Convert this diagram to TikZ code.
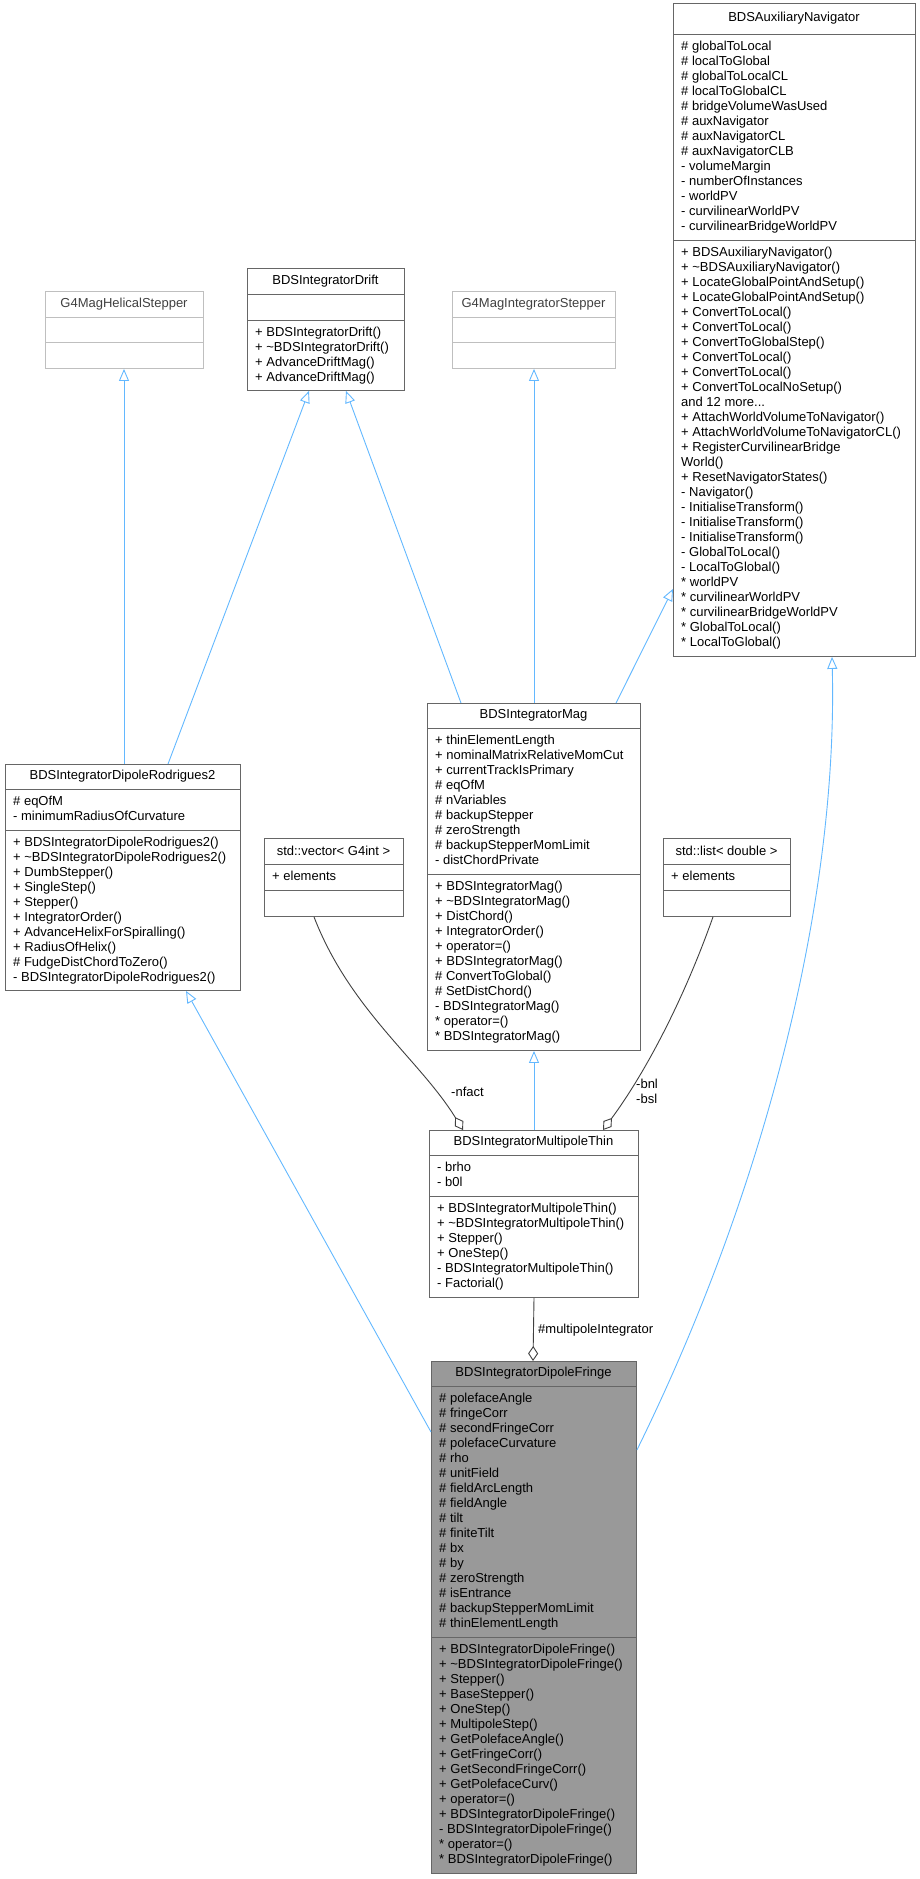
\documentclass[tikz,border=0pt]{standalone}
\usepackage{fontspec}
\setmainfont{Liberation Sans}
\usetikzlibrary{arrows.meta,calc}
\definecolor{inhc}{HTML}{63B8FF}
\definecolor{compc}{HTML}{404040}
\definecolor{normb}{HTML}{666666}
\definecolor{grayb}{HTML}{BFBFBF}
\definecolor{grayt}{HTML}{404040}
\definecolor{fringef}{HTML}{999999}
\def\bcol{normb}\def\bfill{white}\def\tcol{black}\def\yt{0}
\newcommand\ubox[9]{%
  \node[draw=\bcol, fill=\bfill, line width=0.9pt, inner sep=0, anchor=north west,
        minimum width={#3-#2}, minimum height={#6-\yt}] (#1) at (#2,\yt) {};
  \draw[draw=\bcol, line width=0.9pt] (#2,#4) -- (#3,#4) (#2,#5) -- (#3,#5);
  \node[ttl, text=\tcol] (#1-t) at ({(#2+#3)/2},{(\yt+#4)/2}) {#7};
  \node[txt, text=\tcol] (#1-a) at (#2+8,#4+6.5) {#8};
  \node[txt, text=\tcol] (#1-m) at (#2+8,#5+6.5) {#9};
}
\begin{document}
\begin{tikzpicture}[x=1pt,y=-1pt,
  txt/.style={anchor=north west, align=left, inner sep=0, font=\fontsize{13}{15}\selectfont},
  ttl/.style={inner sep=0, font=\fontsize{13}{15}\selectfont},
  inh/.style={draw=inhc, line width=0.9pt, -{Triangle[open, length=12pt, width=10pt, fill=white]}},
  comp/.style={draw=compc, line width=0.9pt, -{Diamond[open, length=15pt, width=10pt, fill=white]}},
  lbl/.style={inner sep=0, align=left, font=\fontsize{13}{15}\selectfont}]
\useasboundingbox (0,0) rectangle (920,1879);

\def\yt{3}
\ubox{aux}{673}{915}{34}{240}{656}{BDSAuxiliaryNavigator}%
{\# globalToLocal\\\# localToGlobal\\\# globalToLocalCL\\\# localToGlobalCL\\\# bridgeVolumeWasUsed\\\# auxNavigator\\\# auxNavigatorCL\\\# auxNavigatorCLB\\- volumeMargin\\- numberOfInstances\\- worldPV\\- curvilinearWorldPV\\- curvilinearBridgeWorldPV}%
{+ BDSAuxiliaryNavigator()\\+ \textasciitilde BDSAuxiliaryNavigator()\\+ LocateGlobalPointAndSetup()\\+ LocateGlobalPointAndSetup()\\+ ConvertToLocal()\\+ ConvertToLocal()\\+ ConvertToGlobalStep()\\+ ConvertToLocal()\\+ ConvertToLocal()\\+ ConvertToLocalNoSetup()\\and 12 more...\\+ AttachWorldVolumeToNavigator()\\+ AttachWorldVolumeToNavigatorCL()\\+ RegisterCurvilinearBridge\\World()\\+ ResetNavigatorStates()\\- Navigator()\\- InitialiseTransform()\\- InitialiseTransform()\\- InitialiseTransform()\\- GlobalToLocal()\\- LocalToGlobal()\\* worldPV\\* curvilinearWorldPV\\* curvilinearBridgeWorldPV\\* GlobalToLocal()\\* LocalToGlobal()}

\def\bcol{grayb}\def\tcol{grayt}
\def\yt{291}
\ubox{hel}{45}{203}{317}{342}{368}{G4MagHelicalStepper}{}{}
\ubox{mis}{452}{615}{317}{342}{368}{G4MagIntegratorStepper}{}{}

\def\bcol{normb}\def\tcol{black}
\def\yt{268}
\ubox{drift}{247}{404}{294}{320}{390}{BDSIntegratorDrift}{}%
{+ BDSIntegratorDrift()\\+ \textasciitilde BDSIntegratorDrift()\\+ AdvanceDriftMag()\\+ AdvanceDriftMag()}

\def\yt{764}
\ubox{rod}{5}{240}{789}{830}{990}{BDSIntegratorDipoleRodrigues2}%
{\# eqOfM\\- minimumRadiusOfCurvature}%
{+ BDSIntegratorDipoleRodrigues2()\\+ \textasciitilde BDSIntegratorDipoleRodrigues2()\\+ DumbStepper()\\+ SingleStep()\\+ Stepper()\\+ IntegratorOrder()\\+ AdvanceHelixForSpiralling()\\+ RadiusOfHelix()\\\# FudgeDistChordToZero()\\- BDSIntegratorDipoleRodrigues2()}

\def\yt{703}
\ubox{mag}{427}{640}{728}{874}{1050}{BDSIntegratorMag}%
{+ thinElementLength\\+ nominalMatrixRelativeMomCut\\+ currentTrackIsPrimary\\\# eqOfM\\\# nVariables\\\# backupStepper\\\# zeroStrength\\\# backupStepperMomLimit\\- distChordPrivate}%
{+ BDSIntegratorMag()\\+ \textasciitilde BDSIntegratorMag()\\+ DistChord()\\+ IntegratorOrder()\\+ operator=()\\+ BDSIntegratorMag()\\\# ConvertToGlobal()\\\# SetDistChord()\\- BDSIntegratorMag()\\* operator=()\\* BDSIntegratorMag()}

\def\yt{838}
\ubox{vec}{264}{403}{864}{890}{916}{std::vector< G4int >}{+ elements}{}
\ubox{lst}{663}{790}{864}{890}{916}{std::list< double >}{+ elements}{}

\def\yt{1130}
\ubox{thin}{429}{638}{1155}{1196}{1297}{BDSIntegratorMultipoleThin}%
{- brho\\- b0l}%
{+ BDSIntegratorMultipoleThin()\\+ \textasciitilde BDSIntegratorMultipoleThin()\\+ Stepper()\\+ OneStep()\\- BDSIntegratorMultipoleThin()\\- Factorial()}

\def\bfill{fringef}
\def\yt{1361}
\ubox{fr}{431}{636}{1386}{1637}{1873}{BDSIntegratorDipoleFringe}%
{\# polefaceAngle\\\# fringeCorr\\\# secondFringeCorr\\\# polefaceCurvature\\\# rho\\\# unitField\\\# fieldArcLength\\\# fieldAngle\\\# tilt\\\# finiteTilt\\\# bx\\\# by\\\# zeroStrength\\\# isEntrance\\\# backupStepperMomLimit\\\# thinElementLength}%
{+ BDSIntegratorDipoleFringe()\\+ \textasciitilde BDSIntegratorDipoleFringe()\\+ Stepper()\\+ BaseStepper()\\+ OneStep()\\+ MultipoleStep()\\+ GetPolefaceAngle()\\+ GetFringeCorr()\\+ GetSecondFringeCorr()\\+ GetPolefaceCurv()\\+ operator=()\\+ BDSIntegratorDipoleFringe()\\- BDSIntegratorDipoleFringe()\\* operator=()\\* BDSIntegratorDipoleFringe()}

% inheritance
\draw[inh] ($(rod.north west)+(119,0)$) -- ($(hel.south west)+(79,0)$);
\draw[inh] ($(rod.north west)+(163,0)$) -- ($(drift.south west)+(62,0)$);
\draw[inh] ($(mag.north west)+(34,0)$) -- ($(drift.south west)+(99,0)$);
\draw[inh] ($(mag.north west)+(107,0)$) -- ($(mis.south west)+(82,0)$);
\draw[inh] ($(mag.north west)+(189,0)$) -- ($(aux.south west)+(0,-68)$);
\draw[inh] ($(thin.north west)+(105,0)$) -- ($(mag.south west)+(107,0)$);
\draw[inh] ($(fr.north west)+(0,71)$) -- ($(rod.south west)+(181,0)$);
\draw[inh] ($(fr.north east)+(0,89)$) .. controls (765,1190) and (838,900) .. ($(aux.south west)+(159,0)$);

% composition
\draw[comp] ($(vec.south west)+(50,0)$) .. controls (350,1010) and (420,1060) .. ($(thin.north west)+(34,0)$);
\draw[comp] ($(lst.south west)+(50,0)$) .. controls (680,1010) and (640,1080) .. ($(thin.north west)+(174,0)$);
\draw[comp] ($(thin.south west)+(105,0)$) -- ($(fr.north west)+(102,0)$);
\node[lbl, anchor=west] (l1) at (451,1092) {-nfact};
\node[lbl, anchor=west] (l2) at (636,1091) {-bnl\\-bsl};
\node[lbl, anchor=west] (l3) at (538,1330) {\#multipoleIntegrator};
\end{tikzpicture}
\end{document}
